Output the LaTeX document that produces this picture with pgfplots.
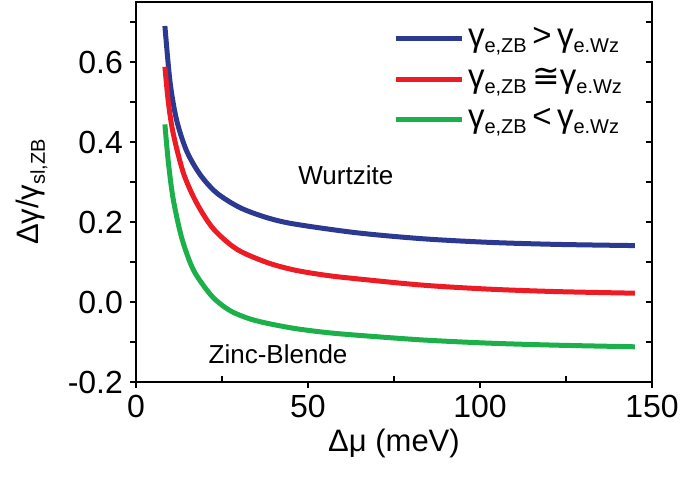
\documentclass[border=0pt]{standalone}
\usepackage{fontspec}
\setmainfont{Liberation Sans}
\newfontfamily\dejavu{DejaVu Sans}
\usepackage{pgfplots}
\usepackage{pgfplotstable}
\pgfplotsset{compat=1.18}

\definecolor{cblue}{RGB}{43,57,144}
\definecolor{cred}{RGB}{237,28,36}
\definecolor{cgreen}{RGB}{28,176,75}

% curves
\pgfplotstableread{
x y
8.4 0.690
9.9 0.550
11.8 0.455
14.7 0.378
18.6 0.319
23.4 0.273
30.2 0.236
38.0 0.211
46.0 0.195
64.2 0.173
83.5 0.158
102.9 0.149
122.3 0.144
145.0 0.141
}\bluedata
\pgfplotstableread{
x y
8.4 0.588
9.4 0.500
10.8 0.422
13.8 0.322
17.6 0.248
22.5 0.183
29.3 0.132
38.0 0.099
46.0 0.080
55.0 0.067
64.2 0.058
83.5 0.042
102.9 0.032
122.3 0.026
145.0 0.022
}\reddata
\pgfplotstableread{
x y
8.4 0.444
9.4 0.350
10.8 0.258
13.3 0.160
16.7 0.080
21.5 0.020
25.0 -0.008
28.3 -0.026
33.0 -0.042
38.0 -0.053
46.0 -0.066
55.0 -0.076
64.2 -0.083
83.5 -0.095
102.9 -0.103
122.3 -0.108
145.0 -0.112
}\greendata

\newcommand{\sub}[1]{\raisebox{-3pt}{\fontsize{10}{10}\selectfont #1}}

\begin{document}
\begin{tikzpicture}
\useasboundingbox (-68pt,-51.5pt) rectangle (272pt,191pt);
\pgfplotsset{
    common/.style={
        scale only axis, width=258pt, height=190pt,
        xmin=0, xmax=150, ymin=-0.2, ymax=0.75,
        axis line style={line width=0.8pt},
        tick style={line width=0.8pt, black},
        major tick length=3pt, minor tick length=3pt,
    }
}
% inner ticks on the right side and minor x ticks
\begin{axis}[
    common,
    tick align=inside,
    xtick={25,75,125}, xticklabels={}, xtick pos=bottom,
    ytick={-0.2,0,0.2,0.4,0.6}, minor ytick={-0.1,0.1,0.3,0.5,0.7},
    yticklabels={}, ytick pos=right,
]
\end{axis}
\begin{axis}[
    common,
    tick align=outside,
    xtick={0,50,100,150}, xtick pos=bottom,
    ytick={-0.2,0,0.2,0.4,0.6}, minor ytick={-0.1,0.1,0.3,0.5,0.7},
    ytick pos=left,
    /pgf/number format/assume math mode=true,
    yticklabel style={/pgf/number format/fixed, /pgf/number format/fixed zerofill, /pgf/number format/precision=1},
    tick label style={font=\fontsize{16}{18}\selectfont},
    xlabel={Δμ (meV)},
    ylabel={Δγ/γ\sub{sl,ZB}},
    every axis x label/.style={at={(rel axis cs:0.5,0)}, yshift=-30.5pt, anchor=center,
        font=\fontsize{15.5}{18}\selectfont},
    every axis y label/.style={at={(rel axis cs:0,0.5)}, xshift=-52pt, rotate=90, anchor=center,
        font=\fontsize{15.5}{18}\selectfont},
    legend style={at={(0.962,0.955)}, anchor=north east, draw=none, fill=none,
        font=\fontsize{16.5}{18}\selectfont, row sep=5pt},
    legend cell align=left,
    legend image code/.code={\draw[#1] (0pt,0pt) -- (33pt,0pt);},
]
\addplot[cblue, line width=2.5pt, smooth] table {\bluedata};
\addlegendentry{γ\sub{e,ZB}\,>\,γ\sub{e.Wz}}
\addplot[cred, line width=2.5pt, smooth] table {\reddata};
\addlegendentry{γ\sub{e,ZB}\,{\dejavu ≅}γ\sub{e.Wz}}
\addplot[cgreen, line width=2.5pt, smooth] table {\greendata};
\addlegendentry{γ\sub{e,ZB}\,<\,γ\sub{e.Wz}}
\node[font=\fontsize{13}{16}\selectfont] at (axis cs:61,0.318) {Wurtzite};
\node[font=\fontsize{13}{16}\selectfont] at (axis cs:41.3,-0.13) {Zinc-Blende};
\end{axis}
\end{tikzpicture}
\end{document}
